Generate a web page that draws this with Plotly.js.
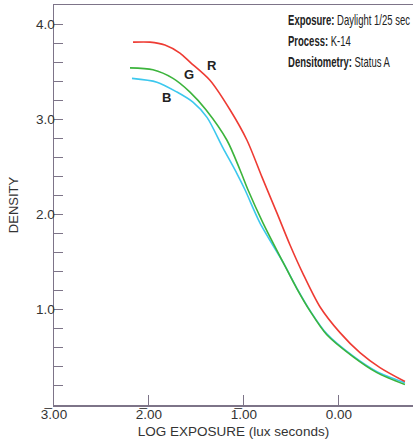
<!DOCTYPE html>
<html><head><meta charset="utf-8">
<script src="https://cdn.plot.ly/plotly-3.0.1.min.js"></script>
<style>html,body{margin:0;padding:0;background:#fff}#c{width:413px;height:448px}</style>
</head><body><div id="c"></div>
<script>
const redX = [-2.168,-1.989,-1.832,-1.674,-1.568,-1.358,-1.147,-0.968,-0.811,-0.653,-0.516,-0.379,-0.20,0.011,0.221,0.432,0.695];
const redY = [3.81,3.81,3.78,3.695,3.60,3.41,3.10,2.78,2.395,2.017,1.683,1.38,1.032,0.76,0.55,0.393,0.246];
const greenX = [-2.20,-1.958,-1.747,-1.568,-1.40,-1.179,-1.042,-0.958,-0.80,-0.589,-0.442,-0.30,-0.13,0.147,0.40,0.695];
const greenY = [3.54,3.52,3.43,3.286,3.10,2.78,2.47,2.26,1.913,1.50,1.22,0.98,0.74,0.508,0.34,0.215];
const blueX = [-2.179,-1.916,-1.705,-1.537,-1.389,-1.221,-1.074,-0.989,-0.832,-0.589,-0.442,-0.30,-0.13,0.147,0.40,0.695];
const blueY = [3.43,3.39,3.286,3.18,3.02,2.70,2.43,2.26,1.913,1.50,1.225,0.985,0.75,0.515,0.35,0.235];
const xTickVals = [-3,-2,-1,0];
const xTickText = ['3\u0305.00','2\u0305.00','1\u0305.00','0.00'];
const yTickVals = [1,2,3,4];
const yTickText = ['1.0','2.0','3.0','4.0'];
const curveLabels = [{t:'R',x:-1.34,y:3.57},{t:'G',x:-1.58,y:3.47},{t:'B',x:-1.82,y:3.23}];
const infoKeys = ['Exposure:','Process:','Densitometry:'];
const infoVals = ['Daylight 1/25 sec','K-14','Status A'];

const axisCol = '#7d7488';
const fam = 'Liberation Sans, Arial, sans-serif';
const font = {family:fam, size:13, color:'#333'};
const traces = [
  {x:blueX,y:blueY,mode:'lines',line:{color:'#3cc8ee',width:1.6,shape:'spline',smoothing:0.8}},
  {x:greenX,y:greenY,mode:'lines',line:{color:'#3cb43c',width:1.6,shape:'spline',smoothing:0.8}},
  {x:redX,y:redY,mode:'lines',line:{color:'#ee3b33',width:1.6,shape:'spline',smoothing:0.8}}
];
const anns = curveLabels.map(l=>({x:l.x,y:l.y,text:'<b>'+l.t+'</b>',showarrow:false,font:{family:fam,size:13,color:'#222'}}));
infoKeys.forEach((k,i)=>anns.push({xref:'paper',yref:'paper',x:0.647,y:0.962-i*0.052,xanchor:'left',yanchor:'middle',showarrow:false,text:'<b>'+k+'</b> '+infoVals[i],font:{family:fam,size:14,color:'#222'}}));
const layout = {
  width:413,height:448,margin:{l:54,r:0,t:5,b:43},
  paper_bgcolor:'#fff',plot_bgcolor:'#fff',showlegend:false,font:font,
  xaxis:{range:[-3,0.78],showgrid:false,zeroline:false,showline:true,mirror:true,linecolor:axisCol,linewidth:1.5,
    tickvals:xTickVals,ticktext:xTickText,ticks:'inside',ticklen:10,tickcolor:axisCol,tickwidth:1,ticklabelstandoff:-4,
    tickfont:{family:fam,size:13.5,color:'#333'},
    title:{text:'LOG EXPOSURE (lux seconds)',font:{family:fam,size:13.5,color:'#333'},standoff:6}},
  yaxis:{range:[0,4.2],showgrid:false,zeroline:false,showline:true,linecolor:axisCol,linewidth:1.5,
    tickvals:yTickVals,ticktext:yTickText,ticks:'inside',ticklen:9,tickcolor:axisCol,tickwidth:1,ticklabelstandoff:-5,
    tickfont:{family:fam,size:13.5,color:'#333'},
    minor:{dtick:0.2,tick0:0,ticks:'inside',ticklen:9,tickcolor:axisCol,tickwidth:1,showgrid:false},
    title:{text:'DENSITY',font:{family:fam,size:13,color:'#333'},standoff:14}},
  annotations:anns
};
Plotly.newPlot('c',traces,layout,{staticPlot:true}).then(()=>{
  const els=[...document.querySelectorAll('.annotation-text')].filter(t=>infoKeys.some(k=>t.textContent.indexOf(k)===0));
  const first=els.find(t=>t.textContent.indexOf(infoKeys[0])===0);
  const s=Math.min(1,122/first.getBBox().width);
  els.forEach(t=>{
    const b=t.getBBox();
    t.setAttribute('transform','translate('+(b.x*(1-s))+',0) scale('+s+',1)');
  });
});
</script></body></html>
